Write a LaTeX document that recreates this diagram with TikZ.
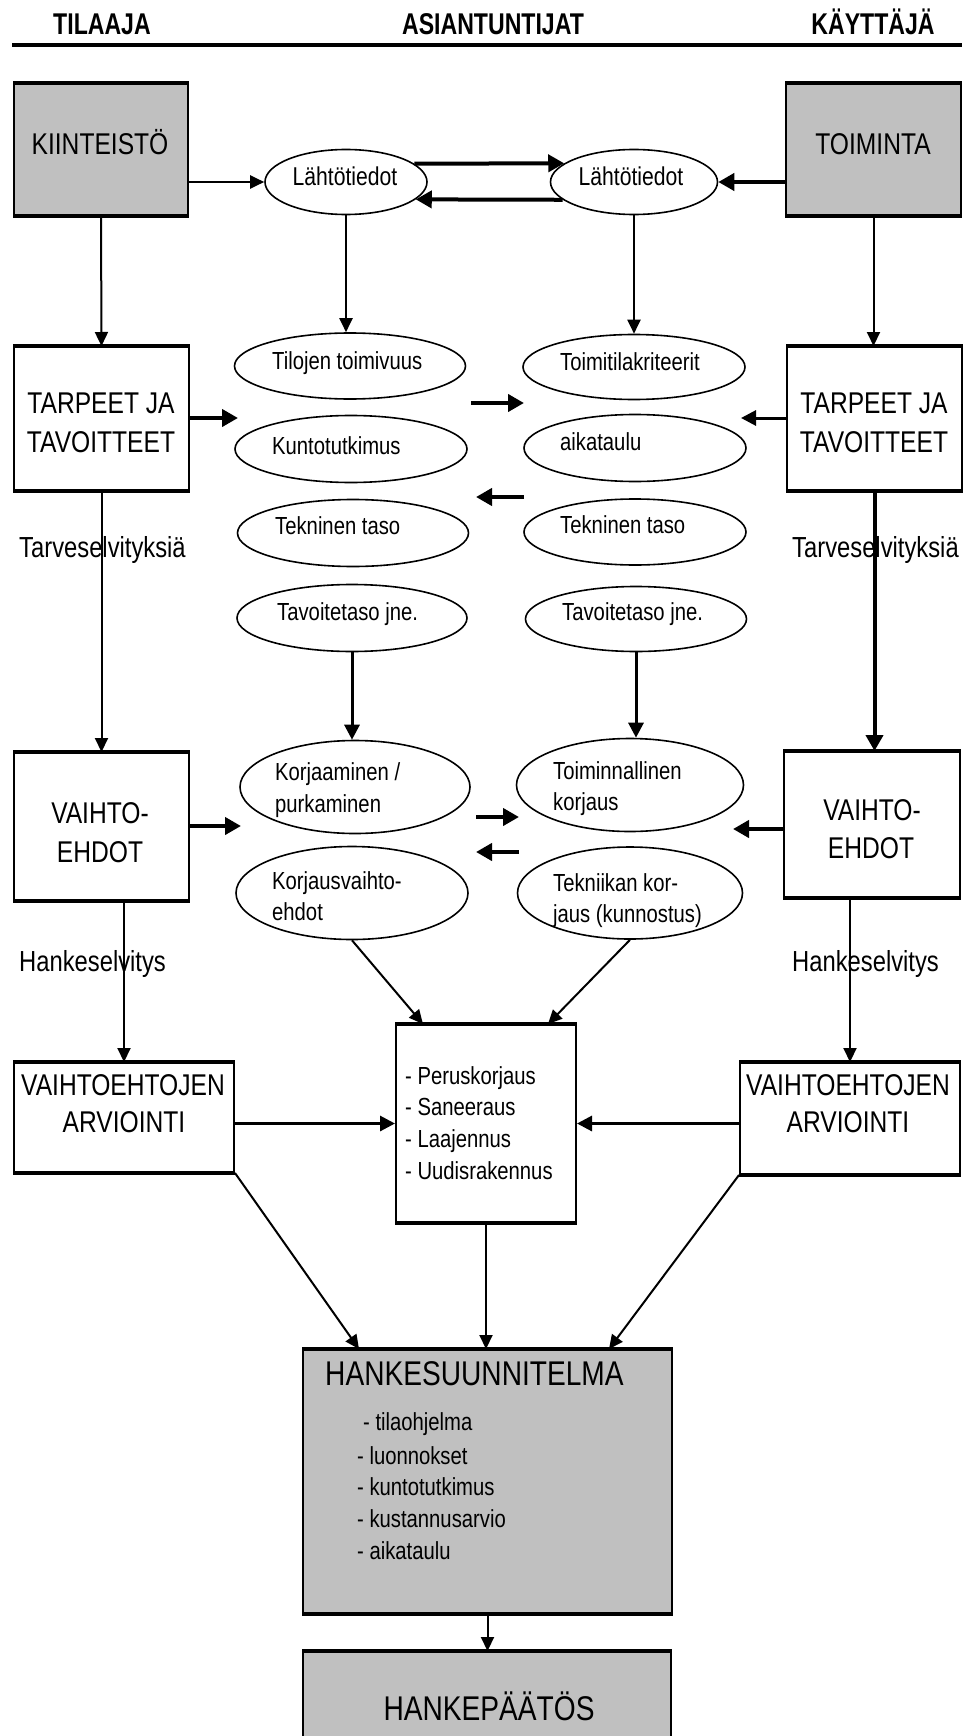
\documentclass[tikz,border=0pt]{standalone}
\usepackage{fontspec}
\setmainfont{Liberation Sans}[FakeStretch=0.82]
\newfontfamily\hdfont{Liberation Sans}[FakeStretch=0.77]
\usetikzlibrary{shapes.geometric,arrows.meta,fit,calc}
\definecolor{boxgray}{RGB}{192,192,192}
\newcommand\tbedge[1]{\draw[line width=3.5pt] (#1.north west) -- (#1.north east) (#1.south west) -- (#1.south east);}
\begin{document}
\begin{tikzpicture}[x=1pt,y=-1pt,
  boxst/.style={draw, line width=2pt, inner sep=0pt, rectangle},
  grayst/.style={boxst, fill=boxgray},
  ellst/.style={draw, ellipse, line width=1.6pt, inner sep=0pt},
  tbase/.style={inner sep=0pt, anchor=base},
  twest/.style={inner sep=0pt, anchor=base west},
  fhead/.style={font=\hdfont\fontsize{30}{30}\selectfont\bfseries},
  fbox/.style={font=\fontsize{30}{30}\selectfont},
  fside/.style={font=\fontsize{29}{29}\selectfont},
  fbig/.style={font=\fontsize{34.3}{34.3}\selectfont},
  fsmall/.style={font=\fontsize{24.7}{24.7}\selectfont},
  flah/.style={font=\fontsize{25.8}{25.8}\selectfont},
  arrthin/.style={line width=2pt, -{Triangle[length=14pt,width=13pt]}},
  arrmed/.style={line width=3pt, -{Triangle[length=15pt,width=15pt]}},
  arrthick/.style={line width=4pt, -{Triangle[length=16pt,width=17pt]}}
]
\useasboundingbox (0,0) rectangle (968,1736);
\fill[white] (0,0) rectangle (968,1736);

% header
\node[tbase,fhead] (h1) at (102,35) {TILAAJA};
\node[tbase,fhead] (h2) at (493,35) {ASIANTUNTIJAT};
\node[tbase,fhead] (h3) at (873,35) {KÄYTTÄJÄ};
\coordinate (rl) at (12,45);
\coordinate (rr) at (962,45);
\draw[line width=4pt] (rl) -- (rr);

% boxes
\node[grayst, fit={(14,84) (188,215)}] (kiin) {};
\node[grayst, fit={(786,84) (961,215)}] (toim) {};
\node[boxst, fit={(14,347) (189,490)}] (tarL) {};
\node[boxst, fit={(787,347) (962,490)}] (tarR) {};
\node[boxst, fit={(14,753) (189,900)}] (vaiL) {};
\node[boxst, fit={(784,752) (960,897)}] (vaiR) {};
\node[boxst, fit={(14,1063) (234,1172)}] (arvL) {};
\node[boxst, fit={(740,1063) (960,1174)}] (arvR) {};
\node[boxst, fit={(396,1025) (576,1222)}] (mid) {};
\node[grayst, fit={(303,1350) (672,1613)}] (hsu) {};
\node[grayst, fit={(303,1652) (671,1760)}] (hpa) {};
\foreach \b in {kiin,toim,tarL,tarR,vaiL,vaiR,arvL,arvR,mid,hsu,hpa}{\tbedge{\b}}

% ellipses
\node[ellst, minimum width=162pt, minimum height=65pt] (l1) at (346,182) {};
\node[ellst, minimum width=167pt, minimum height=65pt] (r1) at (634,182) {};
\node[ellst, minimum width=231pt, minimum height=66pt] (til) at (350,366) {};
\node[ellst, minimum width=232pt, minimum height=67pt] (kun) at (351,449) {};
\node[ellst, minimum width=231pt, minimum height=67pt] (tekL) at (353,533) {};
\node[ellst, minimum width=230pt, minimum height=67pt] (tavL) at (352,618) {};
\node[ellst, minimum width=230pt, minimum height=93pt] (kor) at (355,787) {};
\node[ellst, minimum width=232pt, minimum height=93pt] (kva) at (352,893) {};
\node[ellst, minimum width=222pt, minimum height=65pt] (tmk) at (634,367) {};
\node[ellst, minimum width=222pt, minimum height=67pt] (aik) at (635,448) {};
\node[ellst, minimum width=222pt, minimum height=66pt] (tekR) at (635,532) {};
\node[ellst, minimum width=221pt, minimum height=65pt] (tavR) at (636,619) {};
\node[ellst, minimum width=227pt, minimum height=93pt] (tmi) at (630,785) {};
\node[ellst, minimum width=225pt, minimum height=92pt] (tkk) at (630,893) {};

% texts in boxes
\node[tbase,fbox] (tk) at (100,155) {KIINTEISTÖ};
\node[tbase,fbox] (tt) at (873,155) {TOIMINTA};
\node[tbase,fbox] (ta1) at (101,413) {TARPEET JA};
\node[tbase,fbox] (ta2) at (101,452) {TAVOITTEET};
\node[tbase,fbox] (tb1) at (874,413) {TARPEET JA};
\node[tbase,fbox] (tb2) at (874,452) {TAVOITTEET};
\node[tbase,fbox] (tv1) at (100,823) {VAIHTO-};
\node[tbase,fbox] (tv2) at (100,862) {EHDOT};
\node[tbase,fbox] (tw1) at (872,820) {VAIHTO-};
\node[tbase,fbox] (tw2) at (871,858) {EHDOT};
\node[tbase,fbox] (tx1) at (123,1095) {VAIHTOEHTOJEN};
\node[tbase,fbox] (tx2) at (124,1132) {ARVIOINTI};
\node[tbase,fbox] (ty1) at (848,1095) {VAIHTOEHTOJEN};
\node[tbase,fbox] (ty2) at (848,1132) {ARVIOINTI};
\node[twest,fbig] (ths) at (325,1385) {HANKESUUNNITELMA};
\node[tbase,fbig] (thp) at (489,1720) {HANKEPÄÄTÖS};

% side labels
\node[twest,fside] (sl1) at (19,557) {Tarveselvityksiä};
\node[twest,fside] (sr1) at (792,557) {Tarveselvityksiä};
\node[twest,fside] (sl2) at (19,971) {Hankeselvitys};
\node[twest,fside] (sr2) at (792,971) {Hankeselvitys};

% ellipse texts
\node[tbase,flah] (e1) at (345,186) {Lähtötiedot};
\node[tbase,flah] (e2) at (631,186) {Lähtötiedot};
\node[twest,fsmall] (e3) at (272,369) {Tilojen toimivuus};
\node[twest,fsmall] (e4) at (272,454) {Kuntotutkimus};
\node[twest,fsmall] (e5) at (275,534) {Tekninen taso};
\node[twest,fsmall] (e6) at (277,620) {Tavoitetaso jne.};
\node[twest,fsmall] (e7) at (560,370) {Toimitilakriteerit};
\node[twest,fsmall] (e8) at (560,450) {aikataulu};
\node[twest,fsmall] (e9) at (560,533) {Tekninen taso};
\node[twest,fsmall] (e10) at (562,620) {Tavoitetaso jne.};
\node[twest,fsmall] (e11) at (275,780) {Korjaaminen /};
\node[twest,fsmall] (e12) at (275,812) {purkaminen};
\node[twest,fsmall] (e13) at (272,889) {Korjausvaihto-};
\node[twest,fsmall] (e14) at (272,920) {ehdot};
\node[twest,fsmall] (e15) at (553,779) {Toiminnallinen};
\node[twest,fsmall] (e16) at (553,810) {korjaus};
\node[twest,fsmall] (e17) at (553,891) {Tekniikan kor-};
\node[twest,fsmall] (e18) at (553,922) {jaus (kunnostus)};

% lists
\node[twest,fsmall] (m1) at (405,1084) {- Peruskorjaus};
\node[twest,fsmall] (m2) at (405,1115) {- Saneeraus};
\node[twest,fsmall] (m3) at (405,1147) {- Laajennus};
\node[twest,fsmall] (m4) at (405,1179) {- Uudisrakennus};
\node[twest,fsmall] (n1) at (363,1430) {- tilaohjelma};
\node[twest,fsmall] (n2) at (357,1464) {- luonnokset};
\node[twest,fsmall] (n3) at (357,1495) {- kuntotutkimus};
\node[twest,fsmall] (n4) at (357,1527) {- kustannusarvio};
\node[twest,fsmall] (n5) at (357,1559) {- aikataulu};

% free arrow ends
\coordinate (a1s) at (471,403); \coordinate (a1e) at (524,403);
\coordinate (a2s) at (524,497); \coordinate (a2e) at (476,497);
\coordinate (a3s) at (476,817); \coordinate (a3e) at (519,817);
\coordinate (a4s) at (519,852); \coordinate (a4e) at (476,852);
\coordinate (pL) at (238,418); \coordinate (pR) at (741,418);
\coordinate (qL) at (241,826); \coordinate (qR) at (733,829);

% connectors row 1
\draw[arrthin] (kiin.east |- l1.west) -- (l1.west);
\draw[arrthick] (l1.15) -- (r1.165);
\draw[arrthick] (r1.194) -- (l1.-14);
\draw[arrthick] (toim.west |- r1.east) -- (r1.east);
\draw[arrthin] (kiin.south) -- (tarL.north);
\draw[arrthin] (l1.south) -- (l1.south |- til.north);
\draw[arrthin] (r1.south) -- (r1.south |- tmk.north);
\draw[arrthin] (toim.south) -- (toim.south |- tarR.north);

% row 2
\draw[arrthick] (tarL.east |- pL) -- (pL);
\draw[arrmed] (tarR.west |- pR) -- (pR);
\draw[arrthick] (a1s) -- (a1e);
\draw[arrthick] (a2s) -- (a2e);
\draw[arrthin] (tarL.south) -- (vaiL.north);
\draw[arrthick] (tarR.south) -- (tarR.south |- vaiR.north);
\draw[arrmed] (tavL.south) -- (tavL.south |- kor.north);
\draw[arrmed] (tavR.south) -- (tavR.south |- tmi.north);

% row 3
\draw[arrthick] (vaiL.east |- qL) -- (qL);
\draw[arrthick] (vaiR.west |- qR) -- (qR);
\draw[arrthick] (a3s) -- (a3e);
\draw[arrthick] (a4s) -- (a4e);
\draw[arrthin] (arvL.north |- vaiL.south) -- (arvL.north);
\draw[arrthin] (arvR.north |- vaiR.south) -- (arvR.north);
\draw[arrthin] (kva.south) -- ($(mid.north west)+(28,0)$);
\draw[arrthin] (tkk.south) -- ($(mid.north east)+(-29,0)$);

% row 4
\draw[arrmed] (arvL.east |- mid.west) -- (mid.west);
\draw[arrmed] (arvR.west |- mid.east) -- (mid.east);
\draw[arrthin] (arvL.south east) -- ($(hsu.north west)+(57,0)$);
\draw[arrthin] (mid.south) -- (mid.south |- hsu.north);
\draw[arrthin] (arvR.south west) -- ($(hsu.north east)+(-64,0)$);
\draw[arrthin] (hsu.south) -- (hsu.south |- hpa.north);
\end{tikzpicture}
\end{document}
